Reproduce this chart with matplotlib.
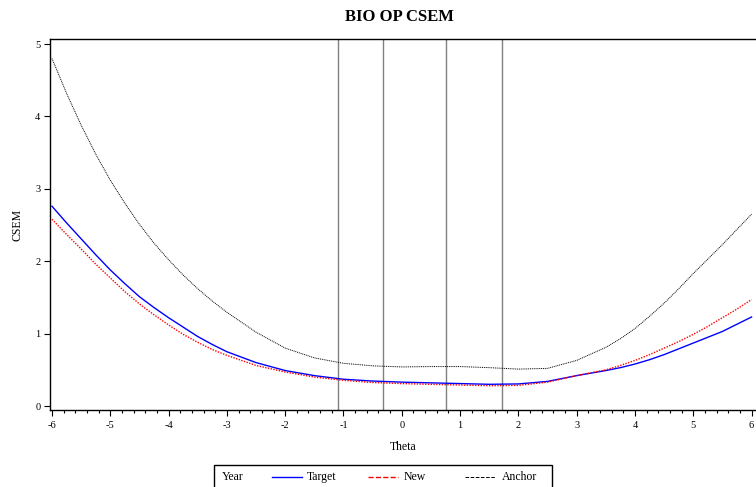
import numpy as np
import matplotlib
matplotlib.use('Agg')
from matplotlib import pyplot as plt
from matplotlib.lines import Line2D
from matplotlib.patches import Rectangle
from matplotlib.ticker import MultipleLocator

plt.rcParams['font.family'] = ['Liberation Serif', 'DejaVu Serif']
plt.rcParams['axes.unicode_minus'] = False

theta = [-6, -5.75, -5.5, -5.25, -5, -4.75, -4.5, -4.25, -4, -3.75, -3.5, -3.25, -3,
         -2.5, -2, -1.5, -1, -0.5, 0, 0.5, 1, 1.5, 2, 2.5, 3, 3.5,
         3.75, 4, 4.25, 4.5, 4.75, 5, 5.25, 5.5, 5.75, 6]
target = [2.76, 2.53, 2.31, 2.09, 1.88, 1.69, 1.51, 1.36, 1.22, 1.09, 0.96, 0.85, 0.75,
          0.60, 0.49, 0.42, 0.37, 0.345, 0.33, 0.32, 0.31, 0.30, 0.305, 0.34, 0.42, 0.49,
          0.53, 0.58, 0.64, 0.71, 0.79, 0.87, 0.95, 1.03, 1.13, 1.23]
new = [2.58, 2.37, 2.17, 1.96, 1.77, 1.58, 1.41, 1.26, 1.12, 0.99, 0.88, 0.78, 0.70,
       0.56, 0.47, 0.40, 0.355, 0.325, 0.31, 0.30, 0.29, 0.28, 0.285, 0.33, 0.42, 0.50,
       0.56, 0.63, 0.71, 0.80, 0.89, 0.99, 1.10, 1.22, 1.34, 1.47]
anchor = [4.80, 4.32, 3.88, 3.48, 3.12, 2.80, 2.51, 2.25, 2.02, 1.81, 1.62, 1.45, 1.295,
          1.02, 0.80, 0.665, 0.59, 0.555, 0.54, 0.545, 0.545, 0.53, 0.51, 0.52, 0.63, 0.81,
          0.93, 1.07, 1.24, 1.42, 1.62, 1.83, 2.03, 2.23, 2.44, 2.65]
cuts = [-1.09, -0.32, 0.76, 1.72]

fig = plt.figure(figsize=(7.56, 4.87), dpi=100)
ax = fig.add_axes([50/756, 77/487, 706/756, 371/487])

for c in cuts:
    ax.axvline(c, color='#808080', lw=1.0, zorder=1)

l1, = ax.plot(theta, target, color='blue', lw=1.0, label='Target', zorder=3)
l2, = ax.plot(theta, new, color='red', lw=1.0, ls=(0, (1, 1)), label='New', zorder=3)
l3, = ax.plot(theta, anchor, color='black', lw=0.7, ls=(0, (1, 0.9)), label='Anchor', zorder=3)

ax.set_xlim(-6.034, 6.076)
ax.set_ylim(-0.055, 5.07)
ax.xaxis.set_major_locator(MultipleLocator(1))
ax.xaxis.set_minor_locator(MultipleLocator(0.2))
ax.yaxis.set_major_locator(MultipleLocator(1))
ax.tick_params(axis='both', which='major', labelsize=7.5, length=4, width=0.8, direction='out')
ax.tick_params(axis='x', which='minor', length=2.5, width=0.8)
ax.tick_params(axis='x', pad=4)
ax.tick_params(axis='y', pad=3)
ax.spines['right'].set_visible(False)
for s in ['left', 'bottom', 'top']:
    ax.spines[s].set_linewidth(1.0)

ax.set_xlabel('Theta', fontsize=8.5, labelpad=8)
ax.set_ylabel('CSEM', fontsize=8.5, labelpad=8)
fig.text(0.529, 0.966, 'BIO OP CSEM', ha='center', va='center',
         fontsize=12, fontweight='bold')

# legend box along the bottom edge
W, H = 756, 487
fig.patches.append(Rectangle((214/W, -0.02), (552-214)/W, 0.02 + (H-465)/H,
                             transform=fig.transFigure, fill=False,
                             edgecolor='black', lw=1.0))
ty = (H - 477)/H
fig.text(222/W, ty, 'Year', ha='left', va='center', fontsize=8.5)
for line, x0, tx in [(l1, 272, 307), (l2, 368, 404), (l3, 465, 502)]:
    fig.lines.append(Line2D([x0/W, (x0+30)/W], [ty, ty], transform=fig.transFigure,
                            color=line.get_color(), lw=line.get_linewidth(),
                            ls=line.get_linestyle()))
    fig.text(tx/W, ty, line.get_label(), ha='left', va='center', fontsize=8.5)

plt.savefig('out.png', dpi=100)
